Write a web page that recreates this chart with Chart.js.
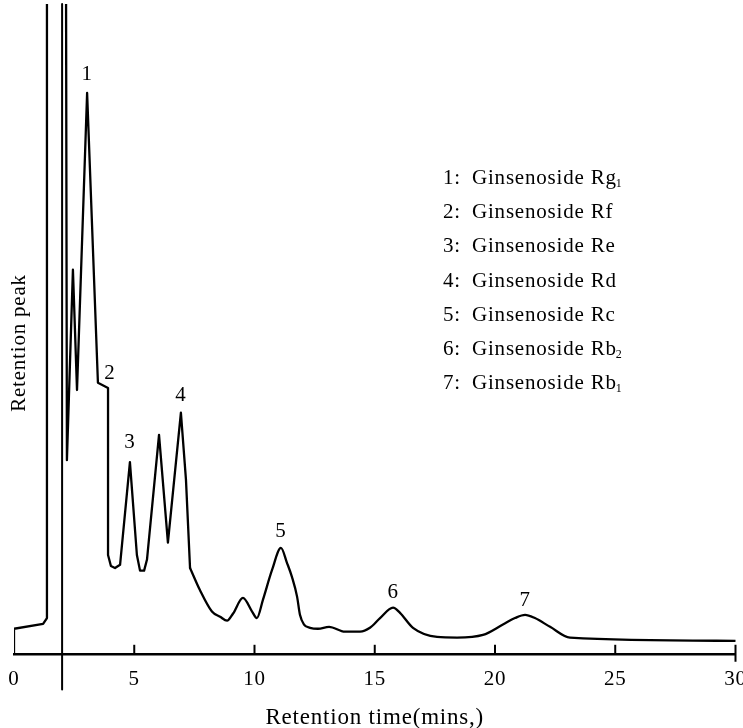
<!DOCTYPE html>
<html>
<head>
<meta charset="utf-8">
<title>Ginsenoside chromatogram</title>
<script src="https://cdn.jsdelivr.net/npm/chart.js@4.4.1/dist/chart.umd.min.js"></script>
<style>
  html, body { margin: 0; padding: 0; background: #fff; }
  #wrap { width: 743px; height: 728px; }
</style>
</head>
<body>
<div id="wrap"><canvas id="chromatogram" width="743" height="728"></canvas></div>
<script>
// retention time (min) / detector signal (arbitrary units, 100 = top of frame)
const retentionTimes = [0, 0, 1.21, 1.37, 1.37, 2.16, 2.20, 2.45, 2.62, 3.04, 3.49, 3.91, 3.91,
  4.03, 4.20, 4.41, 4.82, 5.11, 5.24, 5.41, 5.53, 6.03, 6.40, 6.94, 7.15, 7.32, 7.73, 8.23,
  8.57, 8.86, 9.11, 9.52, 9.90, 10.10, 10.35, 10.73, 11.10, 11.35, 11.56, 11.77, 11.89, 12.06,
  12.31, 12.64, 13.10, 13.76, 14.39, 14.80, 15.22, 15.76, 16.05, 16.59, 17.59, 18.42, 19.50,
  20.33, 20.83, 21.25, 21.66, 22.29, 23.12, 30];
const signalValues = [0, 3.85, 4.6, 5.5, 110, 110, 29.8, 59.1, 40.6, 86.3, 41.7, 40.9, 15.2,
  13.5, 13.2, 13.7, 29.5, 15.2, 12.8, 12.8, 14.5, 33.7, 17.1, 37.1, 26.8, 13.2, 9.8, 6.5,
  5.7, 5.1, 6.2, 8.6, 6.5, 5.5, 8.3, 12.9, 16.3, 14.0, 11.8, 8.8, 6.0, 4.5,
  4.0, 3.85, 4.15, 3.4, 3.4, 4.0, 5.5, 7.1, 6.3, 4.0, 2.6, 2.5, 2.9,
  4.5, 5.5, 6.0, 5.5, 4.15, 2.5, 2.0];
// after this point the pen trace is smooth, before it the peaks are sharp
const smoothFrom = 25;

// injection marker
const injectionTime = 2.0;
const injectionSpan = [-5.5, 100];

// peak numbers and where they sit (time, signal)
const peakNumbers = ['1', '2', '3', '4', '5', '6', '7'];
const peakLabelTimes = [3.04, 3.99, 4.82, 6.94, 11.1, 15.76, 21.25];
const peakLabelSignals = [89.1, 43.2, 32.5, 39.7, 18.8, 9.4, 8.15];

const compoundNames = ['Rg', 'Rf', 'Re', 'Rd', 'Rc', 'Rb', 'Rb'];
const compoundSubscripts = ['1', '', '', '', '', '2', '1'];

const xTicks = [0, 5, 10, 15, 20, 25, 30];

const FONT = '"Liberation Serif", "Times New Roman", serif';
const SPACING = '0.8px';

const decor = {
  id: 'decor',
  beforeDraw(chart) {
    chart.ctx.letterSpacing = SPACING;
  },
  afterDraw(chart) {
    const { ctx, chartArea, scales } = chart;
    const x = scales.x, y = scales.y;
    ctx.save();
    ctx.letterSpacing = SPACING;
    ctx.strokeStyle = '#000';
    ctx.fillStyle = '#000';

    // small upward ticks on the time axis
    ctx.lineWidth = 2;
    xTicks.forEach(v => {
      if (v === 0) return;
      const px = x.getPixelForValue(v);
      ctx.beginPath();
      ctx.moveTo(px, chartArea.bottom);
      ctx.lineTo(px, chartArea.bottom - 9);
      if (v === xTicks[xTicks.length - 1]) ctx.lineTo(px, chartArea.bottom + 8);
      ctx.stroke();
    });

    // y title
    ctx.save();
    ctx.font = '21px ' + FONT;
    ctx.translate(19, 343);
    ctx.rotate(-Math.PI / 2);
    ctx.textAlign = 'center';
    ctx.textBaseline = 'middle';
    ctx.fillText('Retention peak', 0, 0);
    ctx.restore();

    // peak numbers
    ctx.font = '21px ' + FONT;
    ctx.textAlign = 'center';
    ctx.textBaseline = 'middle';
    peakNumbers.forEach((n, i) => {
      ctx.fillText(n, x.getPixelForValue(peakLabelTimes[i]), y.getPixelForValue(peakLabelSignals[i]));
    });

    // compound key
    ctx.textAlign = 'left';
    ctx.textBaseline = 'alphabetic';
    compoundNames.forEach((name, i) => {
      const base = 184 + i * 34.2;
      ctx.font = '21px ' + FONT;
      ctx.fillText((i + 1) + ':', 443, base);
      const txt = 'Ginsenoside ' + name;
      ctx.fillText(txt, 472, base);
      if (compoundSubscripts[i]) {
        const w = ctx.measureText(txt).width;
        ctx.font = '12px ' + FONT;
        ctx.fillText(compoundSubscripts[i], 472 + w - 1, base + 3);
      }
    });
    ctx.restore();
  }
};

const trace = retentionTimes.map((t, i) => ({ x: t, y: signalValues[i] }));
const marker = injectionSpan.map(v => ({ x: injectionTime, y: v }));

const penStyle = {
  showLine: true,
  borderColor: '#000',
  borderWidth: 2.3,
  borderJoinStyle: 'round',
  borderCapStyle: 'round',
  pointRadius: 0
};

new Chart(document.getElementById('chromatogram'), {
  type: 'scatter',
  data: {
    datasets: [
      { ...penStyle, data: trace.slice(0, smoothFrom + 1), tension: 0 },
      { ...penStyle, data: trace.slice(smoothFrom), cubicInterpolationMode: 'monotone' },
      { ...penStyle, data: marker, borderWidth: 2, clip: false }
    ]
  },
  options: {
    responsive: false,
    devicePixelRatio: 1,
    animation: false,
    layout: { padding: { left: 14, right: 7.5, top: 4, bottom: 0 } },
    plugins: {
      legend: { display: false },
      tooltip: { enabled: false }
    },
    scales: {
      x: {
        type: 'linear',
        min: 0,
        max: 30,
        afterFit(scale) {
          scale.paddingLeft = 0;
          scale.paddingRight = 0;
        },
        afterBuildTicks(scale) {
          scale.ticks = xTicks.map(v => ({ value: v }));
        },
        ticks: {
          color: '#000',
          font: { family: FONT, size: 21 },
          padding: 13,
          maxRotation: 0,
          autoSkip: false
        },
        grid: { display: true, drawOnChartArea: false, drawTicks: false },
        border: { display: true, color: '#000', width: 2.5 },
        title: {
          display: true,
          text: 'Retention time(mins,)',
          color: '#000',
          font: { family: FONT, size: 23, lineHeight: 0.87 },
          padding: { top: 3, bottom: 0 }
        }
      },
      y: {
        display: false,
        min: 0,
        max: 100
      }
    }
  },
  plugins: [decor]
});
</script>
</body>
</html>
